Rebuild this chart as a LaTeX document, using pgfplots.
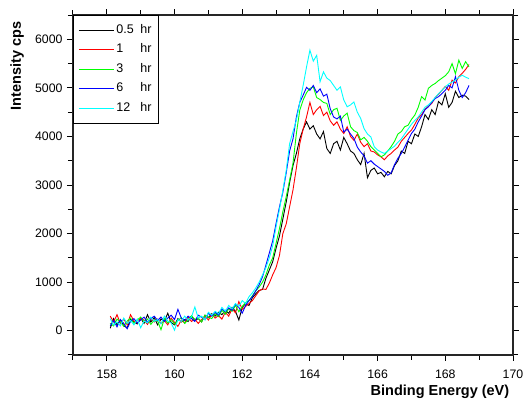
\documentclass[border=0pt]{standalone}
\usepackage{pgfplots}
\usepackage{pgfplotstable}
\pgfplotsset{compat=1.18}
\usepackage{fontspec}
\setmainfont{Liberation Sans}
\definecolor{cR}{RGB}{255,0,0}
\definecolor{cG}{RGB}{0,255,0}
\definecolor{cB}{RGB}{0,0,255}
\definecolor{cC}{RGB}{0,255,255}
\pgfplotstableread{
E b r g bl c
158.1 50 300 150 100 250
158.2 250 180 100 210 120
158.3 120 330 240 80 180
158.4 220 150 180 230 100
158.5 100 240 90 150 260
158.6 60 120 200 40 150
158.7 230 330 260 190 210
158.8 180 200 150 250 120
158.9 140 160 220 160 240
159.0 260 250 280 220 60
159.1 150 220 180 280 200
159.2 330 130 240 170 160
159.3 180 260 130 250 280
159.4 270 180 220 300 190
159.5 120 240 200 210 230
159.6 240 150 20 280 140
159.7 200 210 250 190 300
159.8 360 120 160 260 200
159.9 170 260 230 320 160
160.0 120 170 140 230 10
160.1 250 90 210 440 230
160.2 180 220 270 260 190
160.3 230 160 150 210 300
160.4 190 280 220 300 220
160.5 300 190 310 250 280
160.6 210 240 230 190 490
160.7 250 150 260 320 260
160.8 180 230 180 280 300
160.9 320 300 320 230 220
161.0 270 220 280 360 380
161.1 350 340 250 300 320
161.2 300 260 350 380 400
161.3 380 310 290 320 350
161.4 330 240 420 450 480
161.5 420 380 340 390 400
161.6 360 300 450 470 520
161.7 480 450 400 420 450
161.8 400 370 520 550 560
161.9 220 600 390 480 500
162.0 480 440 500 360 620
162.1 560 500 580 520 560
162.2 520 560 620 620 700
162.3 680 620 720 700 780
162.4 760 720 820 820 880
162.5 830 820 900 950 1000
162.6 850 860 1000 1110 1150
162.7 1080 850 1150 1350 1300
162.8 1250 980 1350 1600 1500
162.9 1420 1150 1500 1850 1750
163.0 1700 1300 1800 2210 2140
163.1 1950 1550 2100 2550 2500
163.2 2300 2000 2450 2850 2890
163.3 2650 2200 2760 3250 3300
163.4 3050 2550 3100 3700 3850
163.5 3400 2900 3450 3950 4100
163.6 3650 3350 4060 4400 4335
163.7 3950 3850 4540 4700 4700
163.8 4150 4150 4750 4850 5050
163.9 4300 4400 4900 5010 5430
164.0 4150 4700 4990 4950 5776
164.1 4220 4450 5020 5050 5550
164.2 4050 4550 4800 4900 5670
164.3 3950 4620 4760 4980 5125
164.4 4100 4430 4700 4830 5330
164.5 3750 4500 4680 4870 5200
164.6 3650 4320 4450 4570 5150
164.7 3850 4230 4550 4400 5050
164.8 3900 4300 4580 4360 4950
164.9 3720 4150 4330 4420 5020
165.0 3980 4060 4420 4090 4750
165.1 3850 4200 4480 4150 4610
165.2 3700 4000 4200 4050 4650
165.3 3650 3920 4120 3960 4710
165.4 3520 4050 4080 3780 4500
165.5 3420 3880 3930 3680 4370
165.6 3650 3790 3980 3600 4160
165.7 3150 3850 3900 3450 4050
165.8 3300 3700 3790 3500 3990
165.9 3350 3680 3720 3430 3790
166.0 3230 3620 3650 3380 3720
166.1 3260 3580 3580 3330 3680
166.2 3170 3520 3620 3280 3650
166.3 3280 3600 3700 3200 3700
166.4 3230 3650 3790 3250 3750
166.5 3400 3720 3900 3420 3800
166.6 3500 3780 4050 3550 3880
166.7 3700 3900 4100 3650 3950
166.8 3650 3980 4200 3780 4050
166.9 3900 4060 4230 3920 4150
167.0 3850 4130 4350 4060 4250
167.1 4050 4250 4440 4150 4330
167.2 4000 4380 4600 4300 4400
167.3 4200 4450 4820 4420 4500
167.4 4450 4560 4750 4550 4600
167.5 4350 4620 4990 4610 4650
167.6 4550 4680 5050 4700 4720
167.7 4450 4800 5090 4780 4800
167.8 4720 4870 5150 4820 4880
167.9 4650 4950 5200 4880 4950
168.0 4880 5030 5250 4950 5020
168.1 4600 4950 5330 5050 5080
168.2 4700 5160 5500 5000 5120
168.3 4930 5100 5290 5230 5160
168.4 4800 5230 5570 4950 5220
168.5 4850 5300 5400 4800 5260
168.6 4830 5380 5540 4900 5220
168.7 4760 5480 5430 5050 5190
}\datatable
\begin{document}
\begin{tikzpicture}
\path[use as bounding box] (-73pt,-44pt) rectangle (450pt,355pt);
\begin{axis}[
  at={(0pt,0pt)}, anchor=south west,
  scale only axis, width=440pt, height=340pt,
  xmin=157, xmax=170, ymin=-500, ymax=6500,
  xtick={158,160,...,170}, minor xtick={157,159,...,169},
  ytick={0,1000,...,6000}, minor ytick={-500,500,...,6500},
  tick align=outside,
  major tick length=6pt, minor tick length=5pt,
  every tick/.style={black, line width=1pt},
  axis line style={line width=1.3pt, black!85},
  /pgf/number format/assume math mode=true,
  /pgf/number format/1000 sep={},
  tick label style={font=\fontsize{12.3}{14}\selectfont},
  xticklabel style={yshift=-5pt},
  yticklabel style={xshift=-1pt},
  xlabel={\textbf{Binding Energy (eV)}},
  ylabel={\textbf{Intensity cps}},
  xlabel style={font=\fontsize{14.5}{16}\selectfont, at={(axis description cs:0.834,-0.109)}, anchor=center},
  ylabel style={font=\fontsize{14.5}{16}\selectfont, at={(axis description cs:-0.127,0.85)}, anchor=center, rotate=0},
  legend style={at={(0,1)}, anchor=north west, draw=black, line width=0.8pt,
    font=\fontsize{12.5}{13}\selectfont, inner xsep=5pt, inner ysep=5pt,
    nodes={text height=9pt, text depth=3pt, inner ysep=3.75pt, inner xsep=2pt},
    row sep=0pt},
  legend cell align=left,
  legend image code/.code={\draw[#1, line width=1pt] (0pt,0pt) -- (35pt,0pt);},
]
\addplot[black, line width=0.9pt] table[x=E, y=b] {\datatable};
\addplot[cR, line width=0.9pt] table[x=E, y=r] {\datatable};
\addplot[cG, line width=0.9pt] table[x=E, y=g] {\datatable};
\addplot[cB, line width=0.9pt] table[x=E, y=bl] {\datatable};
\addplot[cC, line width=0.9pt] table[x=E, y=c] {\datatable};
\legend{\makebox[24pt][l]{0.5}hr, \makebox[24pt][l]{1}hr, \makebox[24pt][l]{3}hr, \makebox[24pt][l]{6}hr, \makebox[24pt][l]{12}hr}
\end{axis}
\end{tikzpicture}
\end{document}
